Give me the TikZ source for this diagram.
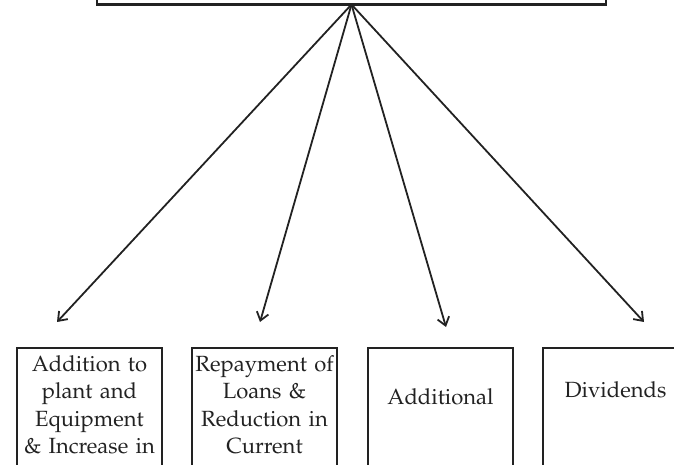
\documentclass[tikz,border=0pt]{standalone}
\usepackage[T1]{fontenc}
\usepackage{mathpazo}
\usetikzlibrary{arrows.meta,positioning}
\definecolor{ink}{HTML}{222222}
\tikzset{
  arr/.style={-{Straight Barb[length=8pt,width=12pt]}, line width=1.8pt, draw=ink},
  srcbox/.style={draw=ink, line width=2.5pt, outer sep=0pt, minimum width=509pt, minimum height=60pt, inner sep=0pt},
  outbox/.style={
    draw=ink, line width=2.5pt, outer sep=0pt,
    anchor=north west,
    align=center,
    text width=141pt,
    inner xsep=2pt, inner ysep=4pt,
    text depth=120pt,
    text=ink,
    font=\fontsize{22}{27.5}\selectfont,
  },
}
\begin{document}
\begin{tikzpicture}[x=1pt,y=1pt]
  \useasboundingbox (0,0) rectangle (674,464);
  \clip (0,0) rectangle (674,464);

  % source box, only its lower edge shows
  \node[srcbox, anchor=south] (src) at (351.5,459.5) {};

  % the four uses
  \node[outbox, text height=19pt] (add) at (17,116)
    {Addition to\\plant and\\Equipment\\\& Increase in};
  \node[outbox, text height=19pt] (repay) at ([xshift=30pt]add.north east)
    {Repayment of\\Loans \&\\Reduction in\\Current};
  \node[outbox, text height=52pt] (extra) at ([xshift=31pt]repay.north east)
    {Additional};
  \node[outbox, text height=45pt] (divid) at ([xshift=30pt]extra.north east)
    {Dividends};

  \draw[arr] (src.south) -- ([xshift=-32.5pt,yshift=26pt]add.north);
  \draw[arr] (src.south) -- ([xshift=-4.5pt,yshift=26pt]repay.north);
  \draw[arr] (src.south) -- ([xshift=5.5pt,yshift=21pt]extra.north);
  \draw[arr] (src.south) -- ([xshift=28.5pt,yshift=26pt]divid.north);
\end{tikzpicture}
\end{document}
